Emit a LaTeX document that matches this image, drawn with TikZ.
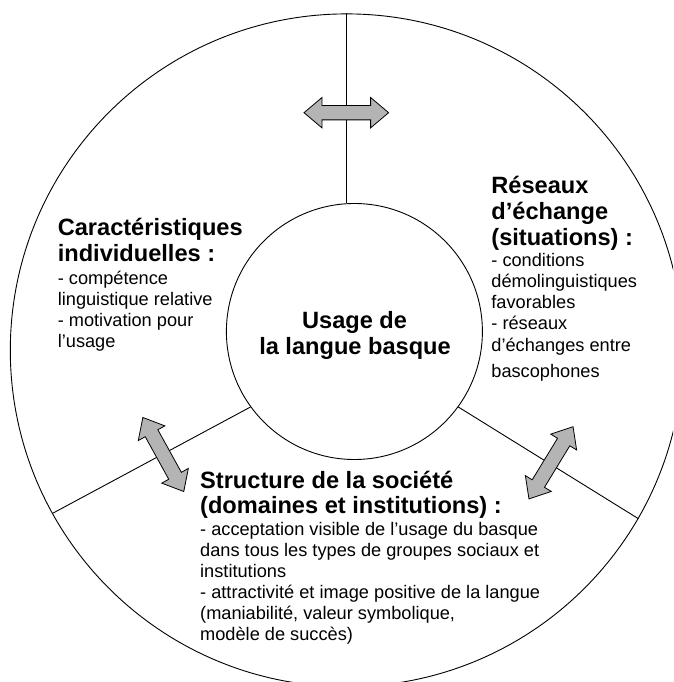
\documentclass[tikz,border=0pt]{standalone}
\usepackage{fontspec}
\setmainfont{Liberation Sans}
\definecolor{arrowgray}{RGB}{180,180,180}
\tikzset{
  body/.style={anchor=base west, inner sep=0pt, font=\fontsize{18.2}{21}\selectfont},
  ttl/.style={anchor=base west, inner sep=0pt, font=\fontsize{23.6}{26.5}\selectfont\bfseries},
  ctitle/.style={anchor=base, inner sep=0pt, font=\fontsize{23.6}{26.5}\selectfont\bfseries},
  ring/.style={circle, draw, line width=0.9pt, inner sep=0pt},
  sepline/.style={line width=0.9pt},
  dblarrow/.style={fill=arrowgray, draw=black, line width=0.8pt, line join=miter},
  dbl/.pic={\path[dblarrow] (-42.3,0) -- (-24.3,15.2) -- (-24.3,7.2) -- (24.3,7.2) -- (24.3,15.2)
        -- (42.3,0) -- (24.3,-15.2) -- (24.3,-7.2) -- (-24.3,-7.2) -- (-24.3,-15.2) -- cycle;}
}
\begin{document}
\begin{tikzpicture}[x=1pt,y=-1pt]
\useasboundingbox (0,0) rectangle (673,682);
\clip (0,0) rectangle (673,682);
\fill[white] (0,0) rectangle (673,682);

% circles
\node[ring, minimum size=672.8pt] (outer) at (346.7,350.3) {};
\node[ring, minimum size=256pt] (inner) at (354.4,331.5) {};

% separators
\draw[sepline] (outer.north) -- (outer.north |- inner.north);
\draw[sepline] (inner.216.35) -- (outer.209.2);
\draw[sepline] (inner.324.2) -- (outer.330.95);

% double arrows
\pic (atop) at (346.3,112.7) {dbl};
\pic[rotate=-61.1] (aleft) at (163.3,454.5) {dbl};
\pic[rotate=58.6] (aright) at (551,462.8) {dbl};

% centre
\node[ctitle] (c1) at (354.6,328) {Usage de};
\node[ctitle] (c2) at (355,354.1) {la langue basque};

% left block
\node[ttl]  (l1) at (57.6,235.4) {Caractéristiques};
\node[ttl]  (l2) at (57.6,261.9) {individuelles :};
\node[body] (l3) at (57.6,284.6) {- compétence};
\node[body] (l4) at (57.6,305.5) {linguistique relative};
\node[body] (l5) at (57.6,326.6) {- motivation pour};
\node[body] (l6) at (57.6,347.7) {l’usage};

% right block
\node[ttl]  (r1) at (491.2,193.2) {Réseaux};
\node[ttl]  (r2) at (491.2,219.3) {d’échange};
\node[ttl]  (r3) at (491.2,245.2) {(situations) :};
\node[body] (r4) at (491.2,266.8) {- conditions};
\node[body] (r5) at (491.2,287.4) {démolinguistiques};
\node[body] (r6) at (491.2,308.5) {favorables};
\node[body] (r7) at (491.2,329.6) {- réseaux};
\node[body] (r8) at (491.2,351.0) {d’échanges entre};
\node[body] (r9) at (491.2,377.2) {bascophones};

% bottom block
\node[ttl]  (b1) at (200,488) {Structure de la société};
\node[ttl]  (b2) at (200,513.8) {(domaines et institutions) :};
\node[body] (b3) at (200,535.1) {- acceptation visible de l’usage du basque};
\node[body] (b4) at (200,556.2) {dans tous les types de groupes sociaux et};
\node[body] (b5) at (200,577.0) {institutions};
\node[body] (b6) at (200,598.1) {- attractivité et image positive de la langue};
\node[body] (b7) at (200,619.1) {(maniabilité, valeur symbolique,};
\node[body] (b8) at (200,640.2) {modèle de succès)};
\end{tikzpicture}
\end{document}
